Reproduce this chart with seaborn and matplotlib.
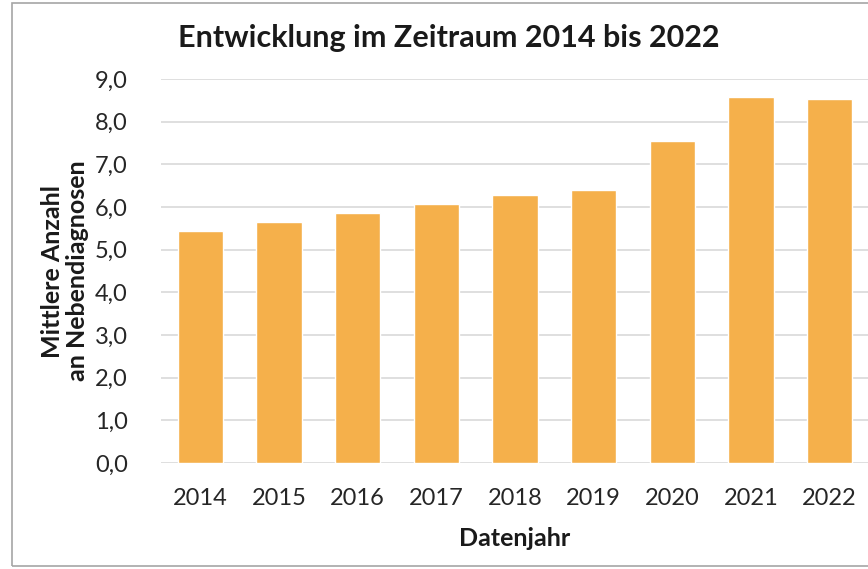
import matplotlib
matplotlib.use("Agg")
import matplotlib.pyplot as plt
import seaborn as sns
import pandas as pd
from matplotlib.patches import Rectangle

years = ["2014", "2015", "2016", "2017", "2018", "2019", "2020", "2021", "2022"]
values = [5.44, 5.65, 5.85, 6.07, 6.28, 6.40, 7.55, 8.58, 8.52]
yticks = [0, 1, 2, 3, 4, 5, 6, 7, 8, 9]
ytick_labels = ["0,0", "1,0", "2,0", "3,0", "4,0", "5,0", "6,0", "7,0", "8,0", "9,0"]

sns.set_theme(style="white")
plt.rcParams["font.family"] = ["Lato", "DejaVu Sans"]

df = pd.DataFrame({"Datenjahr": years, "Wert": values})

fig = plt.figure(figsize=(8.68, 5.69), dpi=100)
ax = fig.add_axes([161 / 868, 1 - 463 / 569, (869 - 161) / 868, (463 - 79) / 569])

sns.barplot(data=df, x="Datenjahr", y="Wert", color="#F5B04B", width=0.58,
            saturation=1, ax=ax, zorder=3)

ax.set_ylim(0, 9)
ax.set_xlim(-0.5, 8.5)
ax.set_yticks(yticks)
ax.set_yticklabels(ytick_labels)
ax.yaxis.grid(True, color="#D9D9D9", linewidth=1.2, zorder=0)
ax.set_axisbelow(True)
for s in ax.spines.values():
    s.set_visible(False)
ax.tick_params(axis="both", length=0, labelsize=17, colors="#262626")
ax.tick_params(axis="x", pad=18)
ax.tick_params(axis="y", pad=24)

ax.set_xlabel("Datenjahr", fontsize=18, fontweight="bold", color="#1a1a1a", labelpad=13)
ax.set_ylabel("Mittlere Anzahl\nan Nebendiagnosen", fontsize=18, fontweight="bold",
              color="#1a1a1a", labelpad=4, linespacing=1.1)

fig.text(449 / 868, 1 - 38 / 569, "Entwicklung im Zeitraum 2014 bis 2022",
         ha="center", va="center", fontsize=22, fontweight="bold", color="#1a1a1a")

fig.patches.append(Rectangle((12 / 868, 3 / 569), 1.0, 1 - 6 / 569,
                             transform=fig.transFigure, fill=False,
                             edgecolor="#A6A6A6", linewidth=1.2))

fig.savefig("out.png", dpi=100)
